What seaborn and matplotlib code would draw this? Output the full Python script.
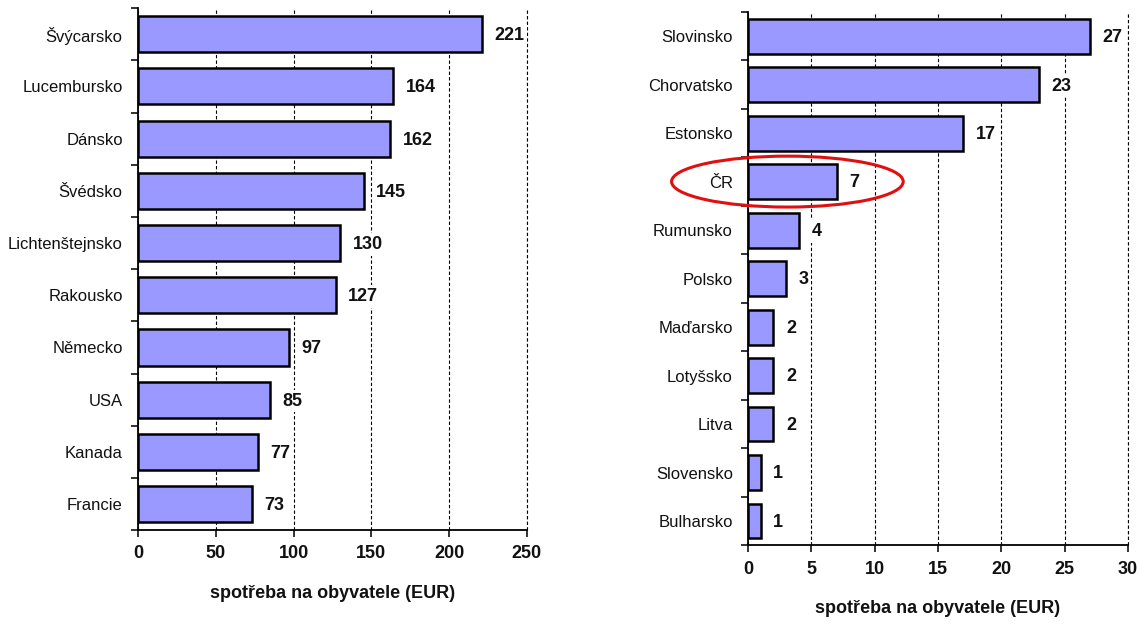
import numpy as np
import pandas as pd
import seaborn as sns
import matplotlib.pyplot as plt
from matplotlib.patches import Ellipse

# data
left_countries = ["Švýcarsko", "Lucembursko", "Dánsko", "Švédsko", "Lichtenštejnsko",
                  "Rakousko", "Německo", "USA", "Kanada", "Francie"]
left_values = [221, 164, 162, 145, 130, 127, 97, 85, 77, 73]

right_countries = ["Slovinsko", "Chorvatsko", "Estonsko", "ČR", "Rumunsko", "Polsko",
                   "Maďarsko", "Lotyšsko", "Litva", "Slovensko", "Bulharsko"]
right_values = [27, 23, 17, 7, 4, 3, 2, 2, 2, 1, 1]

left_ticks = [0, 50, 100, 150, 200, 250]
right_ticks = [0, 5, 10, 15, 20, 25, 30]
xlabel = "spotřeba na obyvatele (EUR)"

sns.set_style("white")
plt.rcParams["font.family"] = ["Liberation Sans Narrow", "Liberation Sans", "DejaVu Sans"]
plt.rcParams["text.color"] = "#111111"
plt.rcParams["xtick.color"] = "#111111"
plt.rcParams["ytick.color"] = "#111111"
plt.rcParams["axes.labelcolor"] = "#111111"

fig = plt.figure(figsize=(11.37, 6.26), dpi=100)
ax1 = fig.add_axes([0.1214, 0.153, 0.342, 0.834])
ax2 = fig.add_axes([0.658, 0.129, 0.334, 0.852])


def draw(ax, countries, values, ticks, width, label_pad):
    df = pd.DataFrame({"country": countries, "value": values})
    sns.barplot(data=df, x="value", y="country", orient="h", color="#9999ff",
                saturation=1, edgecolor="black", linewidth=1.8, width=width, ax=ax)
    n = len(countries)
    ax.set_xlim(ticks[0], ticks[-1])
    ax.set_ylim(n - 0.5, -0.5)
    ax.set_xticks(ticks)
    ax.set_xticklabels([str(t) for t in ticks], fontsize=13, fontweight="bold")
    ax.set_yticks(range(n))
    ax.set_yticklabels(countries, fontsize=12)
    ax.set_yticks(np.arange(-0.5, n, 1.0), minor=True)
    ax.tick_params(axis="y", which="major", length=0, pad=11)
    ax.tick_params(axis="y", which="minor", length=5, width=1.2, direction="out", left=True)
    ax.tick_params(axis="x", which="major", length=5, width=1.2, direction="out",
                   bottom=True, pad=6)
    ax.xaxis.grid(True, linestyle=(0, (3, 2)), color="black", linewidth=0.8)
    # the last gridline sits on the axes edge; draw it unclipped
    ax.axvline(ticks[-1], linestyle=(0, (3, 2)), color="black", linewidth=0.8,
               clip_on=False, zorder=0)
    ax.set_axisbelow(True)
    for s in ["top", "right"]:
        ax.spines[s].set_visible(False)
    for s in ["left", "bottom"]:
        ax.spines[s].set_color("black")
        ax.spines[s].set_linewidth(1.3)
    ax.set_xlabel(xlabel, fontsize=13, fontweight="bold", labelpad=16)
    ax.set_ylabel("")
    for i, v in enumerate(values):
        ax.annotate(str(v), (v, i), xytext=(label_pad, -1), textcoords="offset points",
                    ha="left", va="center", fontsize=13, fontweight="bold",
                    bbox=dict(boxstyle="square,pad=0.15", fc="white", ec="none"))


draw(ax1, left_countries, left_values, left_ticks, 0.69, 9)
draw(ax2, right_countries, right_values, right_ticks, 0.72, 9)

# red ellipse highlighting the Czech Republic
cr = right_countries.index("ČR")
ax2.add_patch(Ellipse((3.1, cr), 18.3, 1.05, fill=False, edgecolor="#e01010",
                      linewidth=2.2, clip_on=False, zorder=5))

fig.savefig("out.png", dpi=100)
